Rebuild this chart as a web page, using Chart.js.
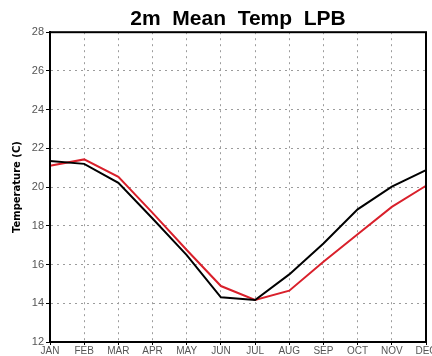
<html lang="en">
<head>
    <meta charset="UTF-8">
    <title>2m Mean Temp LPB</title>
    <script src="https://cdn.jsdelivr.net/npm/chart.js@4/dist/chart.umd.min.js"></script>
    <style>
        html, body { margin: 0; padding: 0; background: #fff; }
        #wrap { width: 432px; height: 356px; }
    </style>
</head>
<body>
    <div id="wrap"><canvas id="chart" width="432" height="356"></canvas></div>
    <script>
        const months = ['JAN', 'FEB', 'MAR', 'APR', 'MAY', 'JUN', 'JUL', 'AUG', 'SEP', 'OCT', 'NOV', 'DEC'];
        const blackSeries = [21.35, 21.2, 20.22, 18.38, 16.49, 14.31, 14.17, 15.49, 17.09, 18.85, 20.02, 20.88];
        const redSeries = [21.1, 21.43, 20.53, 18.67, 16.75, 14.89, 14.17, 14.65, 16.14, 17.56, 18.98, 20.07];
        const yMin = 12, yMax = 28, yStep = 2;

        // frame round the plot area (top and right sides too)
        const frame = {
            id: 'frame',
            afterDraw(chart) {
                const a = chart.chartArea, ctx = chart.ctx;
                ctx.save();
                ctx.strokeStyle = '#000';
                ctx.lineWidth = 2;
                ctx.strokeRect(a.left, a.top, a.right - a.left, a.bottom - a.top);
                ctx.restore();
            }
        };

        const grid = {
            color: '#9c9c9c',
            lineWidth: 1,
            tickColor: '#000',
            tickBorderDash: [],
            tickLength: 4
        };

        new Chart(document.getElementById('chart').getContext('2d'), {
            type: 'line',
            data: {
                labels: months,
                datasets: [
                    { data: blackSeries, borderColor: '#000', borderWidth: 2, pointRadius: 0, tension: 0 },
                    { data: redSeries, borderColor: '#d9202b', borderWidth: 2, pointRadius: 0, tension: 0 }
                ]
            },
            options: {
                responsive: false,
                animation: false,
                layout: { padding: { left: 0, right: 6, top: 0, bottom: 0 } },
                plugins: {
                    legend: { display: false },
                    tooltip: { enabled: false },
                    title: {
                        display: true,
                        text: '2m  Mean  Temp  LPB',
                        fullSize: false,
                        color: '#000',
                        font: { family: 'Liberation Sans', size: 21, weight: 'bold', lineHeight: 1.2 },
                        padding: { top: 7, bottom: 0 }
                    }
                },
                scales: {
                    x: {
                        offset: false,
                        grid: Object.assign({}, grid, { tickLength: 3 }),
                        border: { color: '#000', width: 2, dash: [2, 4] },
                        ticks: {
                            color: '#555',
                            padding: 0,
                            maxRotation: 0,
                            autoSkip: false,
                            font: { family: 'Liberation Sans', size: 10 }
                        },
                        afterFit(s) { s.paddingLeft = 0; s.paddingRight = 0; s.height = 14; }
                    },
                    y: {
                        min: yMin,
                        max: yMax,
                        grid: grid,
                        border: { color: '#000', width: 2, dash: [2, 4] },
                        ticks: {
                            stepSize: yStep,
                            color: '#555',
                            padding: 2,
                            font: { family: 'Liberation Sans', size: 11 }
                        },
                        title: {
                            display: true,
                            text: 'Temperature (C)',
                            color: '#000',
                            font: { family: 'DejaVu Sans', size: 10, weight: 'bold' },
                            padding: { top: 11, bottom: 0 }
                        },
                        afterFit(s) { s.width = 50; }
                    }
                }
            },
            plugins: [frame]
        });
    </script>
</body>
</html>
